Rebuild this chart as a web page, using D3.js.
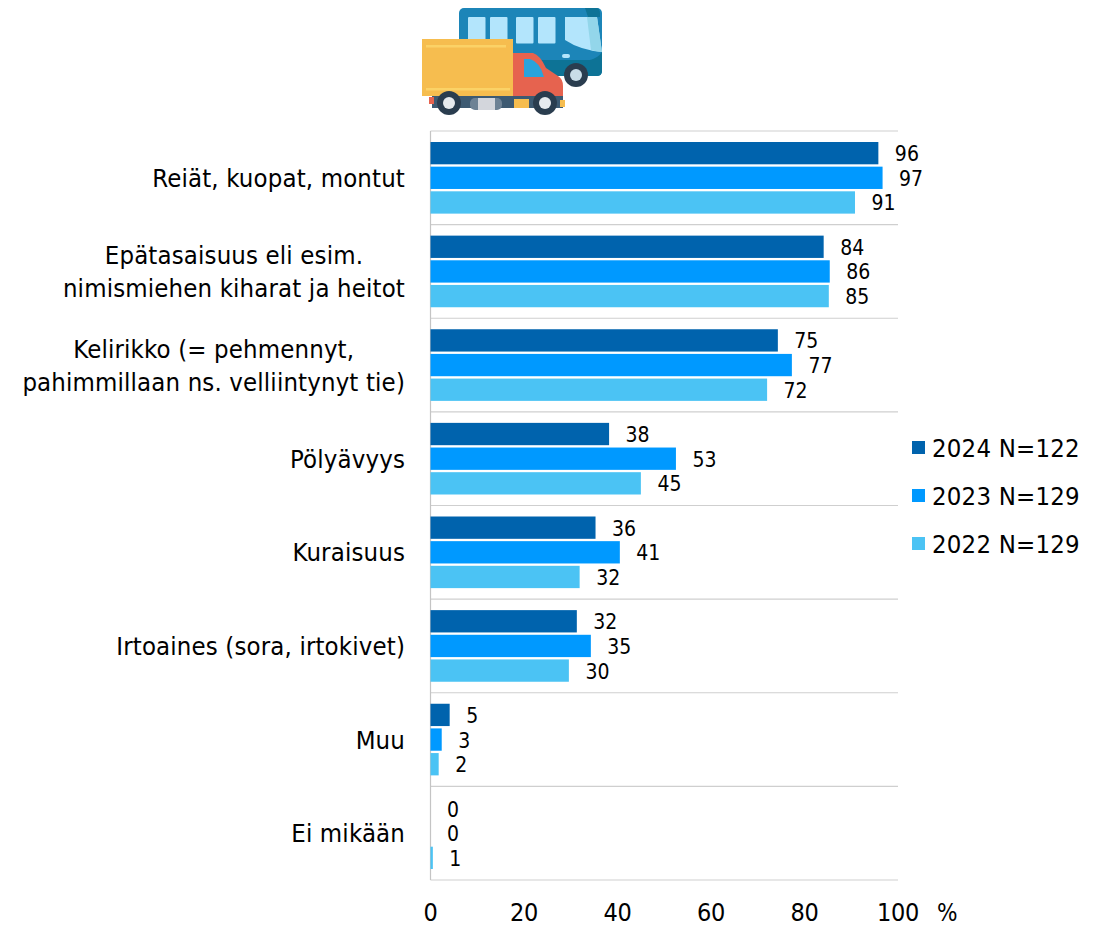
<!DOCTYPE html>
<html>
<head>
<meta charset="utf-8">
<script src="https://cdnjs.cloudflare.com/ajax/libs/d3/7.8.5/d3.min.js"></script>
<style>
  html, body { margin: 0; padding: 0; background: #fff; }
  text { font-family: "DejaVu Sans Condensed", "DejaVu Sans", sans-serif; fill: #000; }
</style>
</head>
<body>
<div id="chart"></div>
<script>
// Chart values.
let categories = [
  ["Reiät, kuopat, montut"],
  ["Epätasaisuus eli esim.", "nimismiehen kiharat ja heitot"],
  ["Kelirikko (= pehmennyt,", "pahimmillaan ns. velliintynyt tie)"],
  ["Pölyävyys"],
  ["Kuraisuus"],
  ["Irtoaines (sora, irtokivet)"],
  ["Muu"],
  ["Ei mikään"]
];
let years = ["2024 N=122", "2023 N=129", "2022 N=129"];
// Bar lengths as measured; the printed labels are rounded differently, so they are kept apart.
let values2024 = [95.8, 84.1, 74.3, 38.2, 35.3, 31.3, 4.1, 0];
let values2023 = [96.7, 85.4, 77.3, 52.5, 40.5, 34.3, 2.4, 0];
let values2022 = [90.8, 85.2, 72.0, 45.0, 31.9, 29.6, 1.75, 0.5];
let labels2024 = [96, 84, 75, 38, 36, 32, 5, 0];
let labels2023 = [97, 86, 77, 53, 41, 35, 3, 0];
let labels2022 = [91, 85, 72, 45, 32, 30, 2, 1];
let xTicks = [0, 20, 40, 60, 80, 100];
let colors = ["#0063ad", "#0099ff", "#4bc3f4"];

let series = [values2024, values2023, values2022];
let seriesLabels = [labels2024, labels2023, labels2022];

// Set dimensions of the plot.
let margin = {top: 131, left: 430.5},
    width = 467.5,
    height = 749;

let svg = d3.select("#chart")
            .append("svg")
            .attr("width", 1099)
            .attr("height", 927)
            .style("display", "block");

let g = svg.append("g")
           .attr("transform", "translate(" + margin.left + "," + margin.top + ")");

// Scales.
let x = d3.scaleLinear().domain([0, 100]).range([0, width]);
let y = d3.scaleBand().domain(d3.range(categories.length)).range([0, height]);
let yInner = d3.scaleBand().domain(d3.range(series.length))
               .range([11, y.bandwidth() - 11]).paddingInner(0.095);

// Separators between the categories.
g.append("g")
 .selectAll("line")
 .data(d3.range(categories.length + 1))
 .enter()
 .append("line")
 .attr("x1", 0)
 .attr("x2", width)
 .attr("y1", function(d) { return d * y.step(); })
 .attr("y2", function(d) { return d * y.step(); })
 .attr("stroke", "#cfcfcf")
 .attr("stroke-width", 1.2);

// Vertical axis line, under the bars so the tiny last bar still shows.
g.append("line")
 .attr("x1", 0).attr("x2", 0)
 .attr("y1", 0).attr("y2", height)
 .attr("stroke", "#c4c4c4")
 .attr("stroke-width", 1.2);

// Bars and value labels.
series.forEach(function(vals, s) {
    let group = g.append("g");
    group.selectAll("rect")
         .data(vals)
         .enter()
         .append("rect")
         .attr("x", 0)
         .attr("y", function(d, i) { return y(i) + yInner(s); })
         .attr("width", function(d) { return x(d); })
         .attr("height", yInner.bandwidth())
         .attr("fill", colors[s]);

    group.selectAll("text")
         .data(vals)
         .enter()
         .append("text")
         .attr("x", function(d) { return x(d) + 16.5; })
         .attr("y", function(d, i) { return y(i) + yInner(s) + yInner.bandwidth() / 2 + 2; })
         .attr("dominant-baseline", "middle")
         .style("font-size", "21px")
         .text(function(d, i) { return seriesLabels[s][i]; });
});

// Category labels. The block sits right, two-line labels are centred inside it.
let catText = g.append("g")
 .selectAll("text")
 .data(categories)
 .enter()
 .append("text")
 .attr("text-anchor", "middle")
 .style("font-size", "25.5px")
 .style("letter-spacing", "0.15px")
 .attr("y", function(d, i) { return y(i) + y.bandwidth() / 2; });

catText.selectAll("tspan")
 .data(function(d) { return d; })
 .enter()
 .append("tspan")
 .attr("dy", function(d, i, nodes) { return i == 0 ? (nodes.length == 1 ? 9 : -7) : 33; })
 .text(function(d) { return d; });

catText.each(function() {
    let widest = d3.max(d3.select(this).selectAll("tspan").nodes(), function(n) { return n.getComputedTextLength(); });
    d3.select(this).selectAll("tspan").attr("x", -25.5 - widest / 2);
});

// X axis labels.
g.append("g")
 .selectAll("text")
 .data(xTicks)
 .enter()
 .append("text")
 .attr("x", function(d) { return x(d); })
 .attr("y", 790)
 .attr("text-anchor", "middle")
 .style("font-size", "25px")
 .style("letter-spacing", "-0.3px")
 .text(function(d) { return d; });

svg.append("text")
   .attr("x", 937)
   .attr("y", 921)
   .style("font-size", "24px")
   .text("%");

// Legend.
let legend = svg.append("g")
 .selectAll("g")
 .data(years)
 .enter()
 .append("g")
 .attr("transform", function(d, i) { return "translate(912," + (441 + i * 48) + ")"; });

legend.append("rect")
 .attr("width", 13)
 .attr("height", 13)
 .attr("fill", function(d, i) { return colors[i]; });

legend.append("text")
 .attr("x", 20)
 .attr("y", 15.5)
 .style("font-size", "25.5px")
 .style("letter-spacing", "0.2px")
 .text(function(d) { return d; });

// Bus and truck picture above the chart, slightly soft like the pasted image.
svg.append("defs").append("filter").attr("id", "soft")
   .append("feGaussianBlur").attr("stdDeviation", 0.5);
let icon = svg.append("g").attr("filter", "url(#soft)");
function box(px, py, w, h, fill, r) {
    icon.append("rect").attr("x", px).attr("y", py).attr("width", w).attr("height", h)
        .attr("rx", r || 0).attr("fill", fill);
}
function wheel(cx, cy, r, hub) {
    icon.append("circle").attr("cx", cx).attr("cy", cy).attr("r", r).attr("fill", "#2c3e50");
    icon.append("circle").attr("cx", cx).attr("cy", cy).attr("r", r * 0.5).attr("fill", hub);
}
// bus
box(459, 8, 143, 68, "#1a85b8", 5);
icon.append("path").attr("d", "M585 8H597Q600 8 600 14V17H588Z").attr("fill", "#0f7396");
icon.append("path").attr("d", "M520 60H590Q598 58 602 52V71Q602 76 597 76H520Z").attr("fill", "#0f7396");
[468, 490, 516, 538].forEach(function(px) { box(px, 17, 17.5, 26.5, "#b3e5fc", 1); });
icon.append("path").attr("d", "M565 17H597L602 52Q580 50 565 40Z").attr("fill", "#b3e5fc");
icon.append("path").attr("d", "M587 17H597L602 52Q594 51 591 50Z").attr("fill", "#93d6ea");
box(562, 54, 8, 4, "#b3e5fc", 2);
wheel(576, 75, 12, "#c9dde8");
// truck
icon.append("path").attr("d", "M513 53H533Q540 55 546 68L558 76Q563 79 563 86V97H513Z").attr("fill", "#e66350");
icon.append("path").attr("d", "M524 59H530Q540 62 544 77H524Z").attr("fill", "#2aa3dc");
box(432, 96, 131, 12, "#3e5a72");
box(429, 97, 5, 7, "#e66350");
box(514, 99, 15, 9, "#f6bd50");
box(560, 100, 5, 7, "#f6bd50");
box(470, 98, 32, 12, "#6d8295", 5);
box(478, 98, 17, 12, "#d3d6dc");
box(422, 39, 91, 57, "#f6bd50");
box(426, 45, 80, 2.5, "#fbd266");
box(426, 88, 84, 2.5, "#fbd266");
wheel(449, 103, 12, "#e6eaee");
wheel(545, 103, 12, "#e6eaee");
</script>
</body>
</html>
